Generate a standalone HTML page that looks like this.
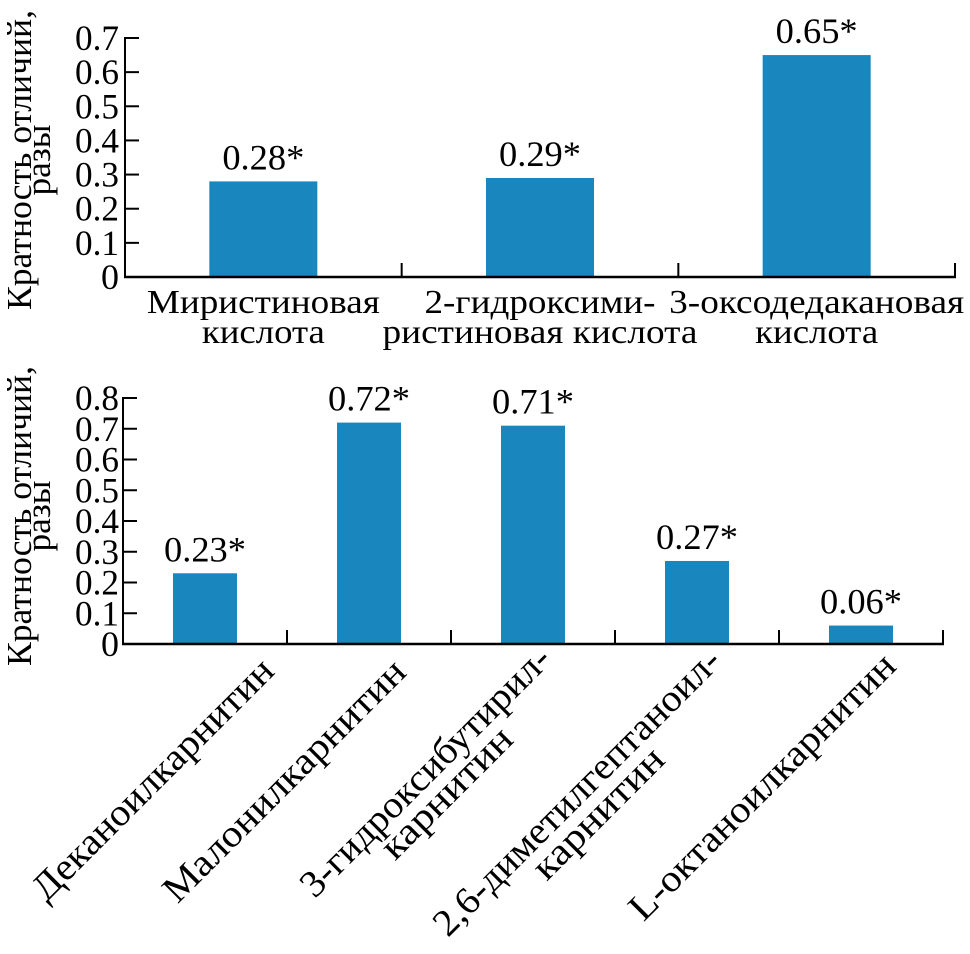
<!DOCTYPE html>
<html><head><meta charset="utf-8"><style>
html,body{margin:0;padding:0;background:#fff;}
svg{display:block;font-family:"Liberation Serif","DejaVu Serif",serif;}
</style></head><body>
<svg id="chart" width="970" height="954" viewBox="0 0 970 954" xmlns="http://www.w3.org/2000/svg">
<g id="top"></g>
<g id="bot"></g>
</svg>
<script>
// ---- data ----
const topCategories = [["Миристиновая","кислота"],["2-гидроксими-","ристиновая кислота"],["3-оксодедакановая","кислота"]];
const topValues = [0.28, 0.29, 0.65];
const topLabels = ["0.28*","0.29*","0.65*"];
const topTicks = [0,0.1,0.2,0.3,0.4,0.5,0.6,0.7];
const topTickLabels = ["0","0.1","0.2","0.3","0.4","0.5","0.6","0.7"];
const botCategories = [["Деканоилкарнитин"],["Малонилкарнитин"],["3-гидроксибутирил-","карнитин"],["2,6-диметилгептаноил-","карнитин"],["L-октаноилкарнитин"]];
const botValues = [0.23, 0.72, 0.71, 0.27, 0.06];
const botLabels = ["0.23*","0.72*","0.71*","0.27*","0.06*"];
const botTicks = [0,0.1,0.2,0.3,0.4,0.5,0.6,0.7,0.8];
const botTickLabels = ["0","0.1","0.2","0.3","0.4","0.5","0.6","0.7","0.8"];

const NS="http://www.w3.org/2000/svg";
const BAR="#1a86be";
function mk(parent,tag,attrs,text){
  const e=document.createElementNS(NS,tag);
  for(const k in attrs)e.setAttribute(k,attrs[k]);
  if(text!==undefined)e.textContent=text;
  parent.appendChild(e);return e;
}

// layout (positions, not data)
const topLay={x0:125,x1:955,y0:277,y1:38,vmax:0.7,barW:108,catLen:[[233,123],[231,315],[295,123]]};
const botLay={x0:123,x1:943,y0:644,y1:398,vmax:0.8,barW:64,
  rotEnd:[[276,673],[408,674],[553,661],[723,663],[898,668]],
  rotLen:[[325],[326],[337,170],[389,170],[360]]};

function drawPanel(g,lay,cats,vals,labs,ticks,tickLabs,title,titleY){
  const n=cats.length, cw=(lay.x1-lay.x0)/n;
  const y=v=>lay.y0-v/lay.vmax*(lay.y0-lay.y1);
  const xc=i=>lay.x0+cw*(i+0.5);
  vals.forEach((v,i)=>{
    const r=mk(g,"rect",{x:xc(i)-lay.barW/2,y:y(v),width:lay.barW,height:lay.y0-y(v),fill:BAR});
    
    
    const t=mk(g,"text",{x:xc(i),y:y(v)-12,"text-anchor":"middle","font-size":36,fill:"#000",textLength:82,lengthAdjust:"spacingAndGlyphs"},labs[i]);
    
    
  });
  const ya=mk(g,"line",{x1:lay.x0,y1:lay.y0,x2:lay.x0,y2:lay.y1-1,stroke:"#000","stroke-width":2});
  
  
  ticks.forEach((tv,i)=>{
    const tk=mk(g,"line",{x1:lay.x0,y1:y(tv),x2:lay.x0+14,y2:y(tv),stroke:"#000","stroke-width":2});
    
    
    const lab=tickLabs[i];
    const attrs={x:119,y:y(tv)+12,"text-anchor":"end","font-size":36,fill:"#000"};
    if(lab.length>1){attrs.textLength=44;attrs.lengthAdjust="spacingAndGlyphs";}
    const tl=mk(g,"text",attrs,lab);
    
    
  });
  const xa=mk(g,"line",{x1:lay.x0-1,y1:lay.y0,x2:lay.x1+1,y2:lay.y0,stroke:"#000","stroke-width":2.5});
  
  
  for(let i=1;i<=n;i++){
    const xx=lay.x0+cw*i;
    const ct=mk(g,"line",{x1:xx,y1:lay.y0,x2:xx,y2:lay.y0-14,stroke:"#000","stroke-width":2});
    
    
  }
  const tt=mk(g,"text",{transform:"translate(31,"+titleY+") rotate(-90)","text-anchor":"middle","font-size":35,fill:"#000"});
  
  
  mk(tt,"tspan",{x:0,y:0,textLength:300,lengthAdjust:"spacingAndGlyphs"},title[0]);
  mk(tt,"tspan",{x:0,y:19,textLength:71,lengthAdjust:"spacingAndGlyphs"},title[1]);
  return {xc,cw};
}

const gt=document.getElementById("top"), gb=document.getElementById("bot");
const T=drawPanel(gt,topLay,topCategories,topValues,topLabels,topTicks,topTickLabels,["Кратность отличий,","разы"],160);
topCategories.forEach((c,i)=>{
  c.forEach((line,j)=>{
    const t=mk(gt,"text",{x:T.xc(i),y:313+j*30,"text-anchor":"middle","font-size":34,fill:"#000",textLength:topLay.catLen[i][j],lengthAdjust:"spacingAndGlyphs"},line);
    
    
  });
});
const B=drawPanel(gb,botLay,botCategories,botValues,botLabels,botTicks,botTickLabels,["Кратность отличий,","разы"],516);
botCategories.forEach((c,i)=>{
  const [ex,ey]=botLay.rotEnd[i];
  const g=mk(gb,"g",{transform:"translate("+ex+","+ey+") rotate(-45)"});
  
  
  const L1=botLay.rotLen[i][0];
  mk(g,"text",{x:0,y:0,"text-anchor":"end","font-size":38,fill:"#000",textLength:L1,lengthAdjust:"spacingAndGlyphs"},c[0]);
  if(c[1]){
    mk(g,"text",{x:-L1/2,y:30,"text-anchor":"middle","font-size":38,fill:"#000",textLength:botLay.rotLen[i][1],lengthAdjust:"spacingAndGlyphs"},c[1]);
  }
});
</script>
</body></html>
